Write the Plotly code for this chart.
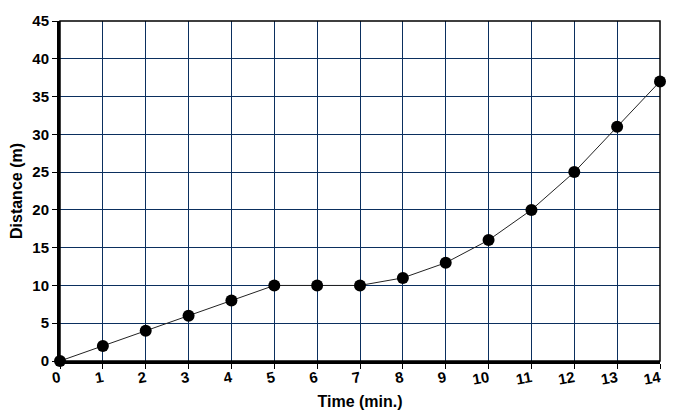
import plotly.graph_objects as go

time_min = [0, 1, 2, 3, 4, 5, 6, 7, 8, 9, 10, 11, 12, 13, 14]
distance_m = [0, 2, 4, 6, 8, 10, 10, 10, 11, 13, 16, 20, 25, 31, 37]

grid_col = "#0b2f5e"
bold_font = "Liberation Sans"

fig = go.Figure(
    data=go.Scatter(
        x=time_min,
        y=distance_m,
        mode="lines+markers",
        line=dict(color="#222222", width=1),
        marker=dict(color="black", size=12),
        cliponaxis=False,
    )
)

fig.update_xaxes(
    range=[0, 14],
    dtick=1,
    automargin=False,
    showgrid=True,
    gridcolor=grid_col,
    gridwidth=1.2,
    zeroline=False,
    showline=True,
    linecolor="black",
    linewidth=3,
    ticks="outside",
    ticklen=5,
    tickcolor="black",
    tickangle=-10,
    ticklabelstandoff=-5,
    tickfont=dict(family=bold_font, size=15, color="black", weight="bold"),
    title=dict(text="<b>Time (min.)</b>", font=dict(family=bold_font, size=16, color="black"), standoff=10),
)
fig.update_yaxes(
    range=[0, 45],
    dtick=5,
    automargin=False,
    showgrid=True,
    gridcolor=grid_col,
    gridwidth=1.2,
    zeroline=False,
    showline=True,
    linecolor="black",
    linewidth=3,
    ticks="outside",
    ticklen=5,
    tickcolor="black",
    tickfont=dict(family=bold_font, size=15, color="black", weight="bold"),
    title=dict(text="<b>Distance (m)</b>", font=dict(family=bold_font, size=16, color="black"), standoff=6),
)

# thin frame on top and right
fig.add_shape(type="rect", xref="paper", yref="paper", x0=0, y0=0, x1=1, y1=1,
              line=dict(color="black", width=1.5), layer="above")

# page body has an 8px margin, so the figure is sized to fit inside the window
fig.update_layout(
    width=672,
    height=409,
    margin=dict(l=52, r=20, t=13, b=56),
    plot_bgcolor="white",
    paper_bgcolor="white",
    showlegend=False,
)

fig.write_html("out.html")
